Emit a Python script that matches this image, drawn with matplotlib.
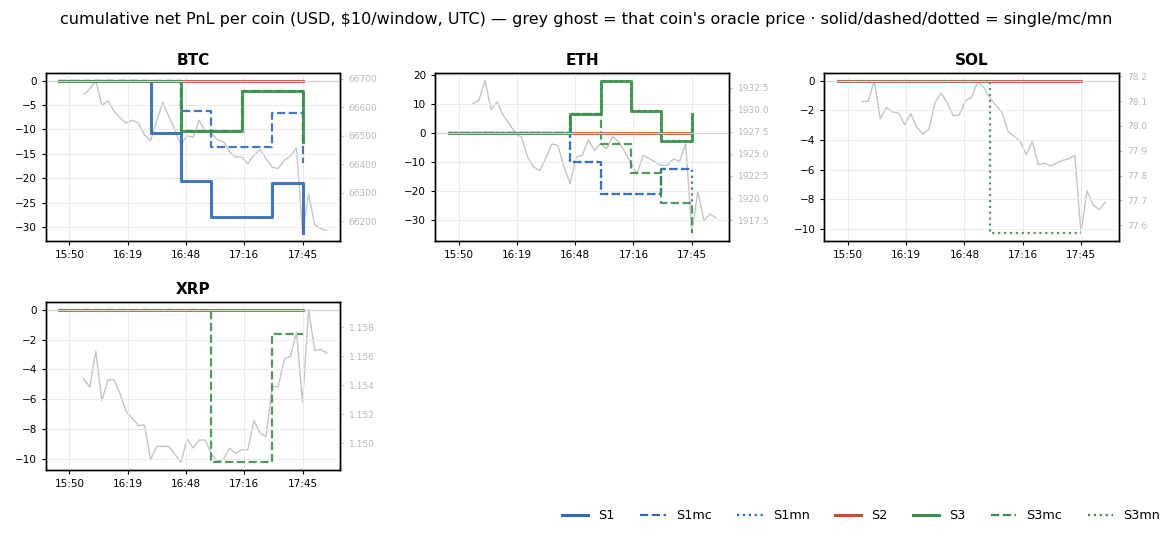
import matplotlib
matplotlib.use('Agg')
import matplotlib.pyplot as plt
from matplotlib.ticker import MultipleLocator
from matplotlib.lines import Line2D

# ---------------- data ----------------
coins = ['BTC', 'ETH', 'SOL', 'XRP']
strategies = ['S1', 'S1mc', 'S1mn', 'S2', 'S3', 'S3mc', 'S3mn']

# window times (minutes after 15:00, UTC)
window_min = [45, 60, 75, 90, 105, 120, 135, 150, 165]
# oracle price sample times (minutes after 15:00, UTC)
price_min = list(range(57, 178, 3))

tick_pos = [50, 78.75, 107.5, 136.25, 165]
tick_labels = ['15:50', '16:19', '16:48', '17:16', '17:45']

# None = strategy had no line for that coin
btc_S1 = [0, 0, 0, -10.7, -20.5, -28.0, -28.0, -21.0, -31.3]
btc_S1mc = [0, 0, 0, 0, -6.2, -13.7, -13.7, -6.6, -16.8]
btc_S1mn = None
btc_S2 = [0, 0, 0, 0, 0, 0, 0, 0, 0]
btc_S3 = [0, 0, 0, 0, -10.3, -10.3, -2.1, -2.1, -12.6]
btc_S3mc = [0, 0, 0, 0, -10.3, -10.3, -2.1, -2.1, -12.6]
btc_S3mn = None

eth_S1 = None
eth_S1mc = [0, 0, 0, 0, -10.1, -20.9, -20.9, -12.5, -12.5]
eth_S1mn = [0, 0, 0, 0, -10.1, -20.9, -20.9, -12.5, -24.1]
eth_S2 = [0, 0, 0, 0, 0, 0, 0, 0, 0]
eth_S3 = [0, 0, 0, 0, 6.65, 18.0, 7.7, -2.8, 6.4]
eth_S3mc = [0, 0, 0, 0, 6.65, -3.7, -13.6, -24.0, -34.4]
eth_S3mn = [0, 0, 0, 0, 6.65, 18.0, 7.7, -2.8, 6.4]

sol_S1 = None
sol_S1mc = None
sol_S1mn = None
sol_S2 = [0, 0, 0, 0, 0, 0, 0, 0, 0]
sol_S3 = None
sol_S3mc = None
sol_S3mn = [0, 0, 0, 0, 0, -10.3, -10.3, -10.3, -10.3]

xrp_S1 = None
xrp_S1mc = None
xrp_S1mn = None
xrp_S2 = [0, 0, 0, 0, 0, 0, 0, 0, 0]
xrp_S3 = None
xrp_S3mc = [0, 0, 0, 0, 0, -10.25, -10.25, -1.65, -1.65]
xrp_S3mn = None

btc_price = [66646, 66664, 66694, 66607, 66623, 66587, 66563, 66545, 66555, 66545,
             66504, 66483, 66551, 66617, 66569, 66521, 66468, 66500, 66495, 66555,
             66515, 66510, 66486, 66480, 66444, 66426, 66426, 66402, 66432, 66452,
             66420, 66390, 66385, 66414, 66429, 66458, 66158, 66295, 66188, 66173,
             66168]
eth_price = [1930.72, 1931.10, 1933.33, 1930.04, 1930.91, 1929.36, 1928.45, 1927.31,
             1926.89, 1924.66, 1923.52, 1923.11, 1924.55, 1926.14, 1925.95, 1923.52,
             1921.63, 1924.66, 1924.85, 1926.63, 1925.38, 1926.17, 1925.61, 1927.01,
             1926.33, 1925.23, 1923.98, 1922.77, 1924.85, 1924.47, 1924.09, 1923.71,
             1923.71, 1924.43, 1924.17, 1926.17, 1916.00, 1920.76, 1917.42, 1918.18,
             1917.73]
sol_price = [78.099, 78.099, 78.183, 78.028, 78.075, 78.056, 78.052, 78.005, 78.049,
             77.995, 77.967, 77.987, 78.095, 78.133, 78.095, 78.041, 78.045, 78.102,
             78.115, 78.178, 78.156, 78.113, 78.083, 78.055, 77.978, 77.958, 77.938,
             77.884, 77.938, 77.843, 77.850, 77.839, 77.850, 77.861, 77.868, 77.881,
             77.567, 77.738, 77.682, 77.662, 77.693]
xrp_price = [1.15444, 1.15386, 1.15634, 1.15294, 1.15437, 1.15437, 1.15340, 1.15218,
             1.15172, 1.15122, 1.15126, 1.14887, 1.14979, 1.14979, 1.14979, 1.14926,
             1.14869, 1.15030, 1.14968, 1.15023, 1.15023, 1.14926, 1.14874, 1.14892,
             1.14966, 1.14931, 1.14956, 1.14956, 1.15156, 1.15071, 1.15046, 1.15391,
             1.15391, 1.15582, 1.15598, 1.15766, 1.15283, 1.15920, 1.15639, 1.15646,
             1.15621]

pnl = {
    'BTC': [btc_S1, btc_S1mc, btc_S1mn, btc_S2, btc_S3, btc_S3mc, btc_S3mn],
    'ETH': [eth_S1, eth_S1mc, eth_S1mn, eth_S2, eth_S3, eth_S3mc, eth_S3mn],
    'SOL': [sol_S1, sol_S1mc, sol_S1mn, sol_S2, sol_S3, sol_S3mc, sol_S3mn],
    'XRP': [xrp_S1, xrp_S1mc, xrp_S1mn, xrp_S2, xrp_S3, xrp_S3mc, xrp_S3mn],
}
prices = {'BTC': btc_price, 'ETH': eth_price, 'SOL': sol_price, 'XRP': xrp_price}

# ---------------- styles ----------------
BLUE = '#2e6bb5'
ORANGE = '#bb552c'
GREEN = '#3b8f4d'
style = {
    'S1': dict(color=BLUE, ls='-', lw=2.2),
    'S1mc': dict(color=BLUE, ls='--', lw=1.6),
    'S1mn': dict(color=BLUE, ls=':', lw=1.6),
    'S2': dict(color=ORANGE, ls='-', lw=2.2),
    'S3': dict(color=GREEN, ls='-', lw=2.2),
    'S3mc': dict(color=GREEN, ls='--', lw=1.6),
    'S3mn': dict(color=GREEN, ls=':', lw=1.6),
}
left_step = {'BTC': 5, 'ETH': 10, 'SOL': 2, 'XRP': 2}
right_step = {'BTC': 100, 'ETH': 2.5, 'SOL': 0.1, 'XRP': 0.002}
GHOST = '#c4c4c4'

fig, axes = plt.subplots(2, 3, figsize=(11.72, 5.35), dpi=100)
fig.subplots_adjust(left=0.0392, right=0.9545, top=0.8636, bottom=0.1215,
                    wspace=0.3225, hspace=0.3646)
axes[1, 1].remove()
axes[1, 2].remove()
ax_list = [axes[0, 0], axes[0, 1], axes[0, 2], axes[1, 0]]

for coin, ax in zip(coins, ax_list):
    ax2 = ax.twinx()
    ax2.plot(price_min, prices[coin], color=GHOST, lw=1.0)
    ax2.yaxis.set_major_locator(MultipleLocator(right_step[coin]))
    ax2.tick_params(axis='y', colors='#b8b8b8', labelsize=6.5, length=2.5, width=0.6)
    ax.set_zorder(ax2.get_zorder() + 1)
    ax.patch.set_visible(False)

    for name, vals in zip(strategies, pnl[coin]):
        if vals is None:
            continue
        st = style[name]
        ax.plot(window_min, vals, drawstyle='steps-post', color=st['color'],
                ls=st['ls'], lw=st['lw'], alpha=0.9)
    ax.axhline(0, color='#d2d2d2', lw=0.9)

    ax.set_title(coin, fontsize=11, fontweight='bold', pad=6)
    ax.set_xticks(tick_pos)
    ax.set_xticklabels(tick_labels)
    ax.yaxis.set_major_locator(MultipleLocator(left_step[coin]))
    ax.tick_params(labelsize=7.5, length=3, width=0.8)
    ax.grid(True, color='#ebebeb', lw=0.7)
    ax.set_axisbelow(True)
    for sp in list(ax.spines.values()) + list(ax2.spines.values()):
        sp.set_linewidth(1.0)
        sp.set_color('black')

fig.suptitle("cumulative net PnL per coin (USD, $10/window, UTC) \u2014 grey ghost = that coin's "
             "oracle price \u00b7 solid/dashed/dotted = single/mc/mn",
             fontsize=11.5, y=0.978)

handles = [Line2D([0], [0], color=style[s]['color'], ls=style[s]['ls'],
                  lw=style[s]['lw']) for s in strategies]
fig.legend(handles, strategies, ncol=7, frameon=False, fontsize=9.2,
           loc='center', bbox_to_anchor=(0.735, 0.036))

fig.savefig('out.png', dpi=100)
